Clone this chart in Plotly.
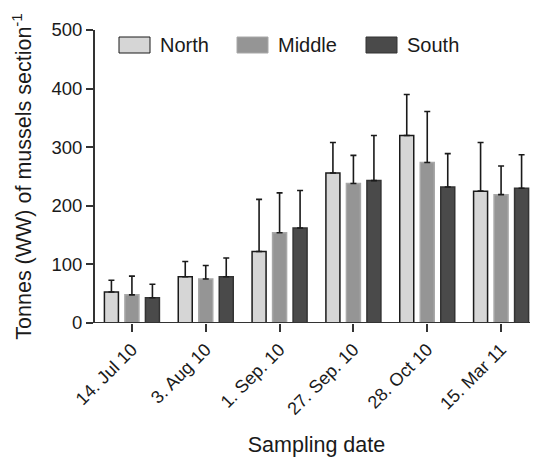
import plotly.graph_objects as go

dates = ["14. Jul 10", "3. Aug 10", "1. Sep. 10", "27. Sep. 10", "28. Oct 10", "15. Mar 11"]
north = [53, 79, 122, 256, 320, 225]
north_err = [20, 26, 89, 52, 70, 83]
middle = [48, 75, 154, 238, 274, 219]
middle_err = [32, 23, 68, 48, 87, 49]
south = [43, 79, 162, 243, 232, 230]
south_err = [23, 32, 64, 77, 57, 57]
y_ticks = [0, 100, 200, 300, 400, 500]

series = [
    ("North", north, north_err, "#d6d6d6", "#1a1a1a"),
    ("Middle", middle, middle_err, "#959595", "#a8a8a8"),
    ("South", south, south_err, "#4a4a4a", "#333333"),
]

FONT = "Liberation Sans, Arial, sans-serif"
AX = "#333333"

# page body has an 8px default margin; compensate so the picture lines up
W, H = 530, 449
PL, PT, PB = 87, 22, 134
PW = W - PL
PH = H - PT - PB

fig = go.Figure()
for name, vals, errs, fill, edge in series:
    fig.add_trace(go.Bar(
        x=dates, y=vals, name=name,
        marker=dict(color=fill, line=dict(color=edge, width=1.5)),
        error_y=dict(type="data", array=errs, symmetric=False, arrayminus=[0]*len(errs),
                     color="#1a1a1a", thickness=1.6, width=3),
        showlegend=False,
    ))

# custom legend (positions in page pixels of the reference)
leg_x = [119, 237, 366]
for (name, vals, errs, fill, edge), lx in zip(series, leg_x):
    fig.add_shape(type="rect", xref="paper", yref="paper",
                  x0=(lx - 95) / PW, x1=(lx + 31 - 95) / PW,
                  y0=(323 - 53) / PH, y1=(323 - 37) / PH,
                  fillcolor=fill, line=dict(color=edge, width=1))
    fig.add_annotation(xref="paper", yref="paper",
                       x=(lx + 39 - 95) / PW, y=(323 - 45) / PH,
                       text=name, showarrow=False, xanchor="left", yanchor="middle",
                       font=dict(family=FONT, size=20, color="#1a1a1a"))

# x-axis line extending slightly left of the y-axis
fig.add_shape(type="line", xref="paper", yref="y", x0=-7 / PW, x1=1, y0=0, y1=0,
              line=dict(color=AX, width=2))

fig.update_layout(
    width=W, height=H,
    margin=dict(l=PL, r=0, t=PT, b=PB, autoexpand=False),
    paper_bgcolor="white", plot_bgcolor="white",
    barmode="group", bargap=0.167, bargroupgap=0.317,
    font=dict(family=FONT, color="#1a1a1a"),
    xaxis=dict(
        range=[-0.5, 5.5], showline=False, showgrid=False, zeroline=False,
        automargin=False,
        ticks="outside", ticklen=8, tickwidth=1.5, tickcolor=AX,
        tickangle=-45, tickfont=dict(size=18),
        title=dict(text="Sampling date", font=dict(size=21.5), standoff=19),
    ),
    yaxis=dict(
        range=[0, 500], tickvals=y_ticks, showline=True, linecolor=AX, linewidth=2,
        showgrid=False, zeroline=False, automargin=False,
        ticks="outside", ticklen=7, tickwidth=1.5, tickcolor=AX,
        tickfont=dict(size=18.5),
        title=dict(text="Tonnes (WW) of mussels section<sup>-1</sup>", font=dict(size=21.5), standoff=18),
    ),
)

fig.write_html("out.html")
